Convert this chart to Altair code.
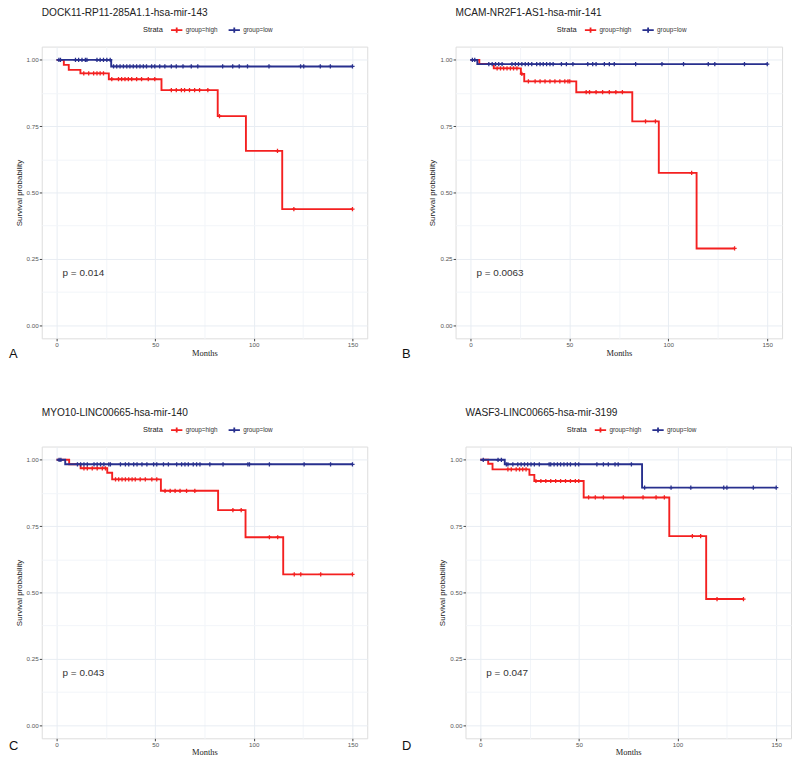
import altair as alt
import pandas as pd

GROUPS = ["group=high", "group=low"]
COLORS = ["#f42020", "#28308e"]

# ---------- Panel A ----------
A_title = "DOCK11-RP11-285A1.1-hsa-mir-143"
A_pval = "p = 0.014"
A_high_t = [0, 3.7, 6.2, 12.1, 26.5, 53.2, 81.7, 96.0, 114.4, 150]
A_high_s = [1.0, 0.981, 0.962, 0.949, 0.927, 0.886, 0.788, 0.657, 0.437, 0.437]
A_high_c = [13.8, 16.3, 18.8, 20.5, 22.1, 23.8, 28.0, 31.4, 33.0, 34.7, 36.4, 38.1, 40.6, 43.1,
            46.5, 49.8, 58.2, 60.7, 63.3, 64.9, 67.4, 70.0, 72.5, 76.7, 82.6, 112.0, 120.3, 150]
A_low_t = [0, 27.7, 150]
A_low_s = [1.0, 0.975, 0.975]
A_low_c = [1.2, 2.0, 9.6, 11.2, 12.9, 14.6, 15.4, 20.5, 22.1, 23.8, 25.5, 27.2, 28.9, 30.5, 32.2,
           33.9, 35.6, 37.2, 38.9, 40.6, 42.3, 44.0, 45.6, 48.2, 49.8, 52.3, 54.9, 58.2, 60.7, 64.1,
           68.3, 71.6, 84.2, 89.3, 92.6, 96.8, 107.7, 123.7, 125.3, 133.7, 138.8, 150]

# ---------- Panel B ----------
B_title = "MCAM-NR2F1-AS1-hsa-mir-141"
B_pval = "p = 0.0063"
B_high_t = [0, 4.5, 11.8, 25.5, 27.2, 53.5, 81.8, 95.2, 114.3, 133.5]
B_high_s = [1.0, 0.985, 0.968, 0.947, 0.919, 0.878, 0.768, 0.574, 0.289, 0.289]
B_high_c = [13.5, 15.2, 16.8, 18.5, 20.2, 21.8, 23.5, 26.0, 29.3, 32.7, 35.2, 37.7, 40.2, 42.7,
            45.2, 47.7, 49.3, 50.2, 58.5, 60.2, 63.5, 66.8, 70.2, 73.5, 76.8, 88.5, 93.5, 111.8, 133.5]
B_low_t = [0, 3.5, 150]
B_low_s = [1.0, 0.984, 0.984]
B_low_c = [1.0, 2.2, 9.3, 11.0, 12.7, 14.3, 16.0, 21.0, 22.7, 24.3, 26.0, 27.7, 29.3, 31.0, 33.5,
           35.2, 36.8, 38.5, 40.2, 41.8, 46.0, 48.5, 51.8, 59.3, 61.8, 63.5, 67.7, 70.2, 72.7, 83.5,
           96.8, 107.7, 120.2, 123.5, 138.5, 150]

# ---------- Panel C ----------
C_title = "MYO10-LINC00665-hsa-mir-140"
C_pval = "p = 0.043"
C_high_t = [0, 6.4, 12.2, 25.7, 28.2, 52.9, 81.9, 95.8, 114.9, 150]
C_high_s = [1.0, 0.983, 0.968, 0.951, 0.926, 0.883, 0.810, 0.708, 0.568, 0.568]
C_high_c = [13.9, 15.6, 18.1, 20.6, 23.2, 24.8, 29.9, 31.5, 33.2, 34.9, 36.6, 38.3, 39.9, 42.4,
            45.0, 48.3, 50.8, 55.0, 57.6, 60.1, 62.6, 65.9, 70.1, 89.4, 93.6, 107.9, 112.1, 120.5,
            123.8, 133.9, 150]
C_low_t = [0, 4.4, 150]
C_low_s = [1.0, 0.983, 0.983]
C_low_c = [1.3, 2.2, 10.6, 12.2, 13.9, 15.6, 19.0, 20.6, 22.3, 24.0, 26.5, 27.3, 32.4, 34.9, 36.6,
           39.1, 40.8, 43.3, 45.8, 49.2, 50.8, 54.2, 56.7, 60.9, 63.4, 65.1, 66.8, 69.3, 71.0, 72.7,
           77.7, 84.4, 97.0, 97.8, 107.9, 125.5, 138.9, 150]

# ---------- Panel D ----------
D_title = "WASF3-LINC00665-hsa-mir-3199"
D_pval = "p = 0.047"
D_high_t = [0, 4.0, 6.2, 24.9, 27.4, 52.4, 95.8, 114.5, 133.4]
D_high_s = [1.0, 0.985, 0.964, 0.943, 0.920, 0.858, 0.712, 0.475, 0.475]
D_high_c = [14.0, 15.7, 18.2, 19.9, 21.5, 23.2, 28.2, 30.7, 33.2, 35.7, 38.2, 40.7, 43.2, 45.7,
            48.2, 49.9, 54.9, 58.3, 62.4, 72.5, 82.5, 89.1, 93.3, 107.5, 111.7, 120.0, 133.4]
D_low_t = [0, 12.4, 82.0, 150]
D_low_s = [1.0, 0.983, 0.895, 0.895]
D_low_c = [1.5, 9.0, 10.7, 13.2, 14.0, 16.5, 19.0, 20.7, 22.4, 24.0, 25.7, 27.4, 29.9, 34.9, 35.7,
           37.4, 39.1, 40.7, 42.4, 44.1, 45.7, 48.2, 49.9, 59.1, 62.4, 64.9, 68.3, 69.9, 76.6, 83.3,
           96.7, 106.7, 123.4, 125.0, 138.4, 150]

X_TICKS = [0, 50, 100, 150]
Y_TICKS = [0, 0.25, 0.5, 0.75, 1.0]


def km_at(ts, ss, t):
    v = ss[0]
    for ti, si in zip(ts, ss):
        if ti <= t:
            v = si
        else:
            break
    return v


def panel(title, pval, letter, high_t, high_s, high_c, low_t, low_s, low_c,
          width, height, letter_x, letter_y):
    steps = pd.DataFrame({
        "Months": high_t + low_t,
        "Survival": high_s + low_s,
        "Strata": [GROUPS[0]] * len(high_t) + [GROUPS[1]] * len(low_t),
    })
    cens = pd.DataFrame({
        "Months": high_c + low_c,
        "Survival": [km_at(high_t, high_s, t) for t in high_c] + [km_at(low_t, low_s, t) for t in low_c],
        "Strata": [GROUPS[0]] * len(high_c) + [GROUPS[1]] * len(low_c),
    })
    xs = alt.Scale(domain=[-7.5, 157.5], nice=False, zero=False)
    ys = alt.Scale(domain=[-0.05, 1.05], nice=False, zero=False)
    legend = alt.Legend(
        orient="none", legendX=102, legendY=-24, direction="horizontal",
        title="Strata", titleOrient="left", titleFontSize=7.5, titleFontWeight="normal",
        titleColor="#222222", titlePadding=6, titleFont="Liberation Sans",
        labelFontSize=6.4, labelColor="#333333", labelFont="Liberation Sans", labelOffset=2,
        symbolType="M-1,0L1,0M0,-0.45L0,0.45", symbolSize=130, symbolStrokeWidth=1.8,
        columnPadding=6, padding=0,
    )
    color = alt.Color("Strata:N", scale=alt.Scale(domain=GROUPS, range=COLORS), legend=legend)
    x_main = alt.Axis(values=X_TICKS, title="Months", titleFont="Liberation Serif",
                      titleFontSize=8.5, titleFontWeight="normal", titleColor="#222222",
                      titlePadding=0, labelFontSize=6.3, labelColor="#555555", labelPadding=1,
                      labelFont="Liberation Sans", tickSize=2.5, tickColor="#444444",
                      domain=False, grid=True, gridColor="#e8edf3")
    y_main = alt.Axis(values=Y_TICKS, format=".2f", title="Survival probability",
                      titleFont="Liberation Sans", titleFontSize=8, titleFontWeight="normal",
                      titleColor="#222222", titlePadding=3, labelFontSize=6.3,
                      labelColor="#555555", labelPadding=1, labelFont="Liberation Sans",
                      tickSize=2.5, tickColor="#444444", domain=False, grid=True,
                      gridColor="#e8edf3")
    x_minor = alt.Axis(values=[25, 75, 125], labels=False, ticks=False, domain=False,
                       title=None, grid=True, gridColor="#f2f5f9")
    y_minor = alt.Axis(values=[0.125, 0.375, 0.625, 0.875], labels=False, ticks=False,
                       domain=False, title=None, grid=True, gridColor="#f2f5f9")

    lines = alt.Chart(steps).mark_line(interpolate="step-after", strokeWidth=1.9).encode(
        x=alt.X("Months:Q", scale=xs, axis=x_main),
        y=alt.Y("Survival:Q", scale=ys, axis=y_main),
        color=color,
    )
    marks = alt.Chart(cens).mark_point(shape="M-1,0L1,0M0,-1L0,1", filled=False, size=18,
                                       strokeWidth=1.3, opacity=1).encode(
        x=alt.X("Months:Q", scale=xs, axis=x_minor),
        y=alt.Y("Survival:Q", scale=ys, axis=y_minor),
        color=color,
    )
    ptext = alt.Chart(pd.DataFrame({"p": [pval]})).mark_text(
        align="left", baseline="middle", fontSize=10, color="#333333",
        font="Liberation Sans").encode(
        text="p:N", x=alt.value(21), y=alt.value(228))
    ltext = alt.Chart(pd.DataFrame({"l": [letter]})).mark_text(
        align="left", baseline="alphabetic", fontSize=13, color="#111111",
        font="Liberation Sans").encode(
        text="l:N", x=alt.value(letter_x), y=alt.value(letter_y))

    return alt.layer(lines, marks, ptext, ltext).resolve_axis(
        x="independent", y="independent").properties(
        width=width, height=height,
        title=alt.TitleParams(text=title, anchor="start", frame="group", fontSize=10.2,
                              fontWeight="normal", color="#222222", font="Liberation Sans",
                              offset=5),
    )


pA = panel(A_title, A_pval, "A", A_high_t, A_high_s, A_high_c, A_low_t, A_low_s, A_low_c,
           328, 294, -33, 314)
pB = panel(B_title, B_pval, "B", B_high_t, B_high_s, B_high_c, B_low_t, B_low_s, B_low_c,
           329, 294, -54, 314)
pC = panel(C_title, C_pval, "C", C_high_t, C_high_s, C_high_c, C_low_t, C_low_s, C_low_c,
           328, 294, -33, 306)
pD = panel(D_title, D_pval, "D", D_high_t, D_high_s, D_high_c, D_low_t, D_low_s, D_low_c,
           328, 294, -64, 306)

row1 = alt.hconcat(pA, pB, spacing=89, bounds="flush").resolve_scale(color="independent")
row2 = alt.hconcat(pC, pD, spacing=99, bounds="flush").resolve_scale(color="independent")

chart = alt.vconcat(row1, row2, spacing=45).resolve_scale(
    color="independent").properties(
    padding={"left": 0, "top": -4, "right": 0, "bottom": 0}
).configure_view(stroke="#9a9a9a", strokeWidth=1.1).configure(font="Liberation Sans")

chart.save("out.html", embed_options={"renderer": "svg", "actions": False})
